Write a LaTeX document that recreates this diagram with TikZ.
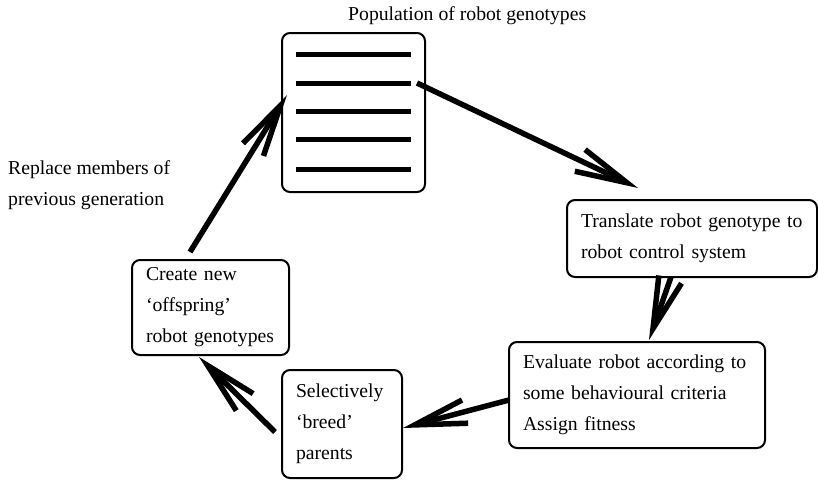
\documentclass[tikz,border=0pt]{standalone}
\usepackage{fontspec}
\setmainfont{Liberation Serif}
\usetikzlibrary{arrows.meta,positioning}
\tikzstyle{stage} = [draw, line width=2pt, rounded corners=8pt, anchor=north west,
    inner xsep=14pt, inner ysep=0pt, outer sep=0pt, align=left]
\tikzstyle{flow} = [line width=5.5pt, -{Straight Barb[length=52pt,width=24pt]}]
\tikzstyle{gene} = [line width=5pt]
\tikzstyle{caption} = [inner sep=0pt, anchor=base west, align=left]

\begin{document}
\begin{tikzpicture}[x=1pt, y=-1pt, font=\fontsize{19.7}{31}\selectfont]
    \useasboundingbox (0,0) rectangle (818,480);
    % the population
    \node[stage, minimum width=143pt, minimum height=159pt] (pop) at (282,33) {};
    \foreach \y in {54,83,111,139,169}
        \draw[gene] (296,\y) -- (411,\y);% one genotype
    \node[caption] (title) at (348,20) {Population of robot genotypes};
    % the stages
    \node[stage, text width=222pt, minimum height=77pt] (translate) at (567,200)
        {Translate robot genotype to\\robot control system};
    \node[stage, text width=228pt, minimum height=106pt] (evaluate) at (509,342)
        {Evaluate robot according to\\some behavioural criteria\\Assign fitness};
    \node[stage, text width=92pt, minimum height=108pt] (select) at (282,370)
        {Selectively\\‘breed’\\parents};
    \node[stage, text width=129pt, minimum height=95pt] (create) at (132,260)
        {Create new\\‘offspring’\\robot genotypes};
    \node[caption] (replace) at (8,205) {Replace members of\\previous generation};% base is the last line
    % the cycle
    \draw[flow] ([xshift=-8pt,yshift=-50pt]pop.north east)
        -- ([xshift=71pt,yshift=12pt]translate.north west);% genotype out
    \draw[flow] ([xshift=104pt]translate.south west)
        -- ([xshift=140pt,yshift=2pt]evaluate.north west);
    \draw[flow] ([yshift=-58pt]evaluate.north west)
        -- ([xshift=1pt,yshift=-58pt]select.north east);
    \draw[flow] ([xshift=-7pt,yshift=-62pt]select.north west)
        -- ([xshift=67pt,yshift=-2pt]create.south west);
    \draw[flow] ([xshift=58pt,yshift=8pt]create.north west)
        -- ([xshift=5pt,yshift=-62pt]pop.north west);% back into the population
\end{tikzpicture}
\end{document}
